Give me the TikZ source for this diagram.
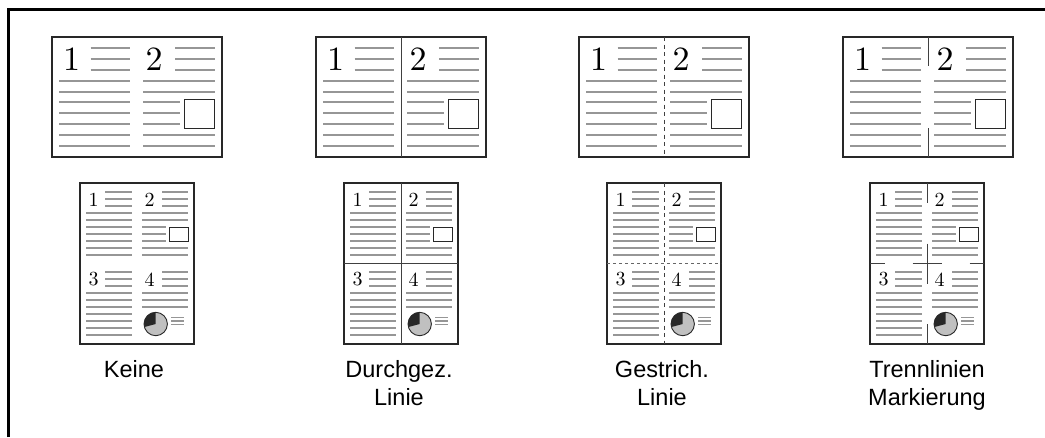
\documentclass[tikz,border=0pt]{standalone}
\usepackage{fontspec}
\newfontfamily\labelfont{Liberation Sans}
\newfontfamily\digfont{lmroman10-regular}[Extension=.otf]
\definecolor{txtgray}{RGB}{150,150,150}
\definecolor{piegray}{RGB}{192,192,192}
\definecolor{inkdark}{RGB}{40,40,40}
\tikzset{
  pageframe/.style={draw=inkdark, line width=1.2pt},
  tline/.style={draw=txtgray, line width=2.4pt},
  ptline/.style={draw=txtgray, line width=2.1pt},
  boxline/.style={draw=inkdark, line width=1pt},
  divline/.style={draw=black!75, line width=1pt},
  ldashline/.style={draw=black!75, line width=1pt, dash pattern=on 4pt off 3.5pt},
  hdashline/.style={draw=black!60, line width=1pt, dash pattern=on 3pt off 3pt},
  ldig/.style={inner sep=0pt, font=\digfont\fontsize{34}{34}\selectfont},
  pdig/.style={inner sep=0pt, font=\digfont\fontsize{20}{20}\selectfont},
  caption/.style={inner sep=0pt, anchor=north, align=center,
    font=\labelfont\fontsize{23.5}{28}\selectfont},
}
\newcommand\lpage[4]{%
  \begin{scope}[shift={(#2,#3)}]
    \draw[pageframe] (0,0) rectangle (170,120);
    \node[ldig] (#1-1) at (19.7,22) {1};
    \node[ldig] (#1-2) at (102.2,22) {2};
    \foreach \yy in {11,22,33} {\draw[tline] (38.7,\yy) -- (78,\yy); \draw[tline] (123,\yy) -- (163,\yy);}
    \foreach \yy in {44,55,65,76,87,98,109} {\draw[tline] (7.3,\yy) -- (78,\yy);}
    \foreach \yy in {44,55,98,109} {\draw[tline] (91.3,\yy) -- (163,\yy);}
    \foreach \yy in {65,76,87} {\draw[tline] (91.3,\yy) -- (128,\yy);}
    \draw[boxline] (132,62) rectangle (162,91);
    #4
  \end{scope}}
\newcommand\ppage[4]{%
  \begin{scope}[shift={(#2,#3)}]
    \draw[pageframe] (0,0) rectangle (114,161);
    \node[pdig] (#1-1) at (13.5,16.5) {1};
    \node[pdig] (#1-2) at (69.5,16.5) {2};
    \node[pdig] (#1-3) at (13.5,96.5) {3};
    \node[pdig] (#1-4) at (69.5,96.5) {4};
    \foreach \yy in {9,16,23,89,96,103} {\draw[ptline] (25,\yy) -- (52,\yy); \draw[ptline] (82,\yy) -- (108,\yy);}
    \foreach \yy in {30,37,44,51,58,65,72,110,117,124,131,138,145,152} {\draw[ptline] (6,\yy) -- (52,\yy);}
    \foreach \yy in {30,37,65,72,110,117,124} {\draw[ptline] (62,\yy) -- (108,\yy);}
    \foreach \yy in {44,51,58} {\draw[ptline] (62,\yy) -- (86,\yy);}
    \draw[boxline] (89,44) rectangle (108,58);
    \begin{scope}[shift={(75.7,141)}, yscale=-1]
      \fill[piegray] (0,0) circle[radius=11.7];
      \fill[inkdark] (0,0) -- (90:11.7) arc[start angle=90, end angle=195, radius=11.7] -- cycle;
      \draw[draw=inkdark, line width=0.9pt] (0,0) circle[radius=11.7];
    \end{scope}
    \foreach \yy in {134.5,138,141.5} {\draw[draw=txtgray, line width=1.5pt] (91,\yy) -- (104,\yy);}
    #4
  \end{scope}}
\begin{document}
\begin{tikzpicture}[x=1pt, y=-1pt]
  \useasboundingbox (0,0) rectangle (1045,437);
  \draw[line width=3pt] (8.5,437) -- (8.5,9.5) -- (1045,9.5);
  % landscape pages
  \lpage{la}{52}{37}{}
  \lpage{lb}{316}{37}{\draw[divline] (85,0) -- (85,120);}
  \lpage{lc}{579}{37}{\draw[ldashline] (85,0) -- (85,120);}
  \lpage{ld}{843}{37}{\draw[divline] (85,0) -- (85,29); \draw[divline] (85,91) -- (85,120);}
  % portrait pages
  \ppage{pa}{80}{183}{}
  \ppage{pb}{344}{183}{\draw[divline] (57,0) -- (57,161); \draw[divline] (0,80.5) -- (114,80.5);}
  \ppage{pc}{607}{183}{\draw[ldashline] (57,0) -- (57,161); \draw[hdashline] (0,80.5) -- (114,80.5);}
  \ppage{pd}{870}{183}{%
    \draw[divline] (57,0) -- (57,20); \draw[divline] (57,60.5) -- (57,100.5); \draw[divline] (57,141) -- (57,161);
    \draw[divline] (0,80.5) -- (14.5,80.5); \draw[divline] (42.5,80.5) -- (71.5,80.5); \draw[divline] (99.5,80.5) -- (114,80.5);}
  % captions
  \node[caption] (cap1) at (134,360) {Keine};
  \node[caption] (cap2) at (399,360) {Durchgez.\\Linie};
  \node[caption] (cap3) at (662,360) {Gestrich.\\Linie};
  \node[caption] (cap4) at (927,360) {Trennlinien\\Markierung};
\end{tikzpicture}
\end{document}
